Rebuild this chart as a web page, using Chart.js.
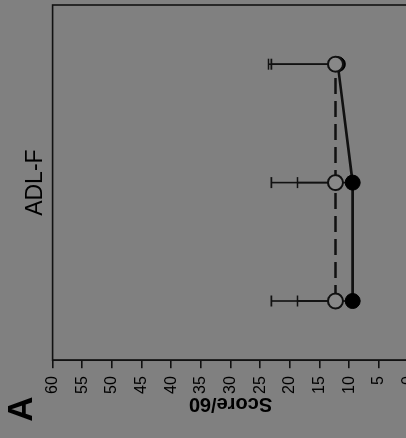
<!DOCTYPE html>
<html>
<head>
<meta charset="utf-8">
<script src="https://cdn.jsdelivr.net/npm/chart.js@4.4.1/dist/chart.umd.min.js"></script>
<style>
  html, body { margin:0; padding:0; background:#808080; overflow:hidden; width:406px; height:438px; }
  #wrap {
    position:absolute; left:0; top:0; width:438px; height:426px;
    transform-origin:0 0;
    transform: translate(0, 438px) rotate(-90deg);
  }
  canvas { display:block; }
</style>
</head>
<body>
<div id="wrap"><canvas id="chart" width="438" height="426"></canvas></div>
<script>
// figure is drawn upright, then the whole panel is turned 90deg like the scan

const categories  = ['T1', 'T2', 'T3'];
const openMeans   = [12.3, 12.3, 12.3];
const openSD      = [10.8, 10.8, 10.8];
const filledMeans = [9.4, 9.4, 11.9];
const filledSD    = [9.3, 9.3, 11.7];

const INK  = '#111';
const FONT = 'Arial, "Liberation Sans", sans-serif';

// upper error bars, behind the markers
const errorBars = {
  id:'errorBars',
  beforeDatasetsDraw(chart){
    const ctx= chart.ctx;
    const xs= chart.scales.x, ys= chart.scales.y;
    chart.data.datasets.forEach(ds=>{
      ds.data.forEach((v,i)=>{
        const x= xs.getPixelForValue(i);
        const y0= ys.getPixelForValue(v);
        const y1= ys.getPixelForValue(v + ds.sd[i]);
        ctx.save();
        ctx.strokeStyle= INK;
        ctx.lineWidth= 1.6;
        ctx.beginPath();
        ctx.moveTo(x, y0); ctx.lineTo(x, y1);
        ctx.moveTo(x-5.5, y1); ctx.lineTo(x+5.5, y1);
        ctx.stroke();
        ctx.restore();
      });
    });
  }
};

// box around plot + panel letter
const frame = {
  id:'frame',
  afterDraw(chart){
    const {ctx, chartArea:a}= chart;
    ctx.save();
    ctx.strokeStyle= INK;
    ctx.lineWidth= 1.6;
    ctx.strokeRect(a.left, a.top, a.right-a.left, a.bottom-a.top);
    ctx.fillStyle= '#000';
    ctx.font= 'bold 35px '+FONT;
    ctx.textAlign= 'center';
    ctx.textBaseline= 'alphabetic';
    ctx.fillText('A', 29, 31.5);
    ctx.restore();
  }
};

new Chart(document.getElementById('chart'), {
  type:'line',
  data:{
    labels: categories,
    datasets:[
      {
        label:'open',
        data: openMeans,
        sd: openSD,
        borderColor: INK,
        borderWidth: 2.6,
        borderDash: [16, 7],
        pointRadius: 7.5,
        pointBorderWidth: 2,
        pointBorderColor: INK,
        pointBackgroundColor: '#888',
        order: 0
      },
      {
        label:'filled',
        data: filledMeans,
        sd: filledSD,
        borderColor: INK,
        borderWidth: 2.6,
        pointRadius: 7.5,
        pointBorderWidth: 1,
        pointBorderColor: '#000',
        pointBackgroundColor: '#000',
        order: 1
      }
    ]
  },
  options:{
    responsive:false,
    animation:false,
    devicePixelRatio:1,
    layout:{ autoPadding:false, padding:{ left:13, right:5, top:0, bottom:13 } },
    plugins:{
      legend:{ display:false },
      tooltip:{ enabled:false },
      title:{
        display:true,
        text:'ADL-F',
        fullSize:false,
        color:'#000',
        font:{ family:FONT, size:23, weight:'normal' },
        padding:{ top:22, bottom:3 }
      }
    },
    scales:{
      x:{
        display:false,
        offset:true
      },
      y:{
        min:0, max:60,
        ticks:{ stepSize:5, color:'#000', padding:8, font:{ family:FONT, size:16 } },
        grid:{ drawOnChartArea:false, tickLength:8, color:INK, lineWidth:1.6 },
        border:{ color:INK, width:1.6 },
        title:{
          display:true,
          text:'Score/60',
          color:'#000',
          padding:{ top:9, bottom:-10 },
          font:{ family:FONT, size:20, weight:'bold' }
        }
      }
    }
  },
  plugins:[errorBars, frame]
});
</script>
</body>
</html>
